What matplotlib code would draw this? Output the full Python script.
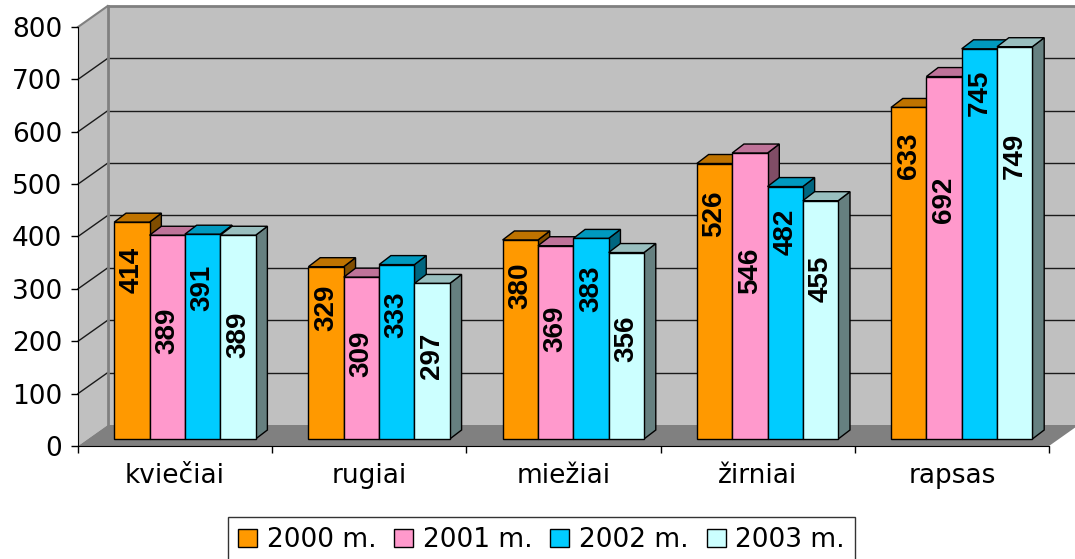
import matplotlib
matplotlib.use('Agg')
import matplotlib.pyplot as plt
from matplotlib.patches import Polygon, Patch
from matplotlib.colors import to_rgb

# ---------------- data ----------------
categories = ['kviečiai', 'rugiai', 'miežiai', 'žirniai', 'rapsas']
series_names = ['2000 m.', '2001 m.', '2002 m.', '2003 m.']
v2000 = [414, 329, 380, 526, 633]
v2001 = [389, 309, 369, 546, 692]
v2002 = [391, 333, 383, 482, 745]
v2003 = [389, 297, 356, 455, 749]
y_ticks = [0, 100, 200, 300, 400, 500, 600, 700, 800]

# ---------------- layout / style ----------------
series_values = [v2000, v2001, v2002, v2003]
colors = ['#FF9900', '#FF99CC', '#00CCFF', '#CCFFFF']
# vertical position (value units, in the bar plane) of each rotated value label
label_centres = [
    [323.6, 251.0, 292.5, 430.9, 540.7],
    [206.0, 163.0, 209.6, 321.0, 456.3],
    [289.0, 237.7, 286.0, 395.8, 661.6],
    [199.5, 159.4, 192.3, 306.8, 540.7],
]

W, H = 1075, 559
fig = plt.figure(figsize=(W / 100, H / 100), dpi=100)
fig.patch.set_facecolor('white')

ax_left, ax_bottom_px, ax_right, ax_top_px = 78, 446, 1049, 27
ax = fig.add_axes([ax_left / W, (H - ax_bottom_px) / H,
                   (ax_right - ax_left) / W, (ax_bottom_px - ax_top_px) / H])
ax.set_xlim(0, 5)
ax.set_ylim(0, 800)
ax.patch.set_visible(False)

px_x = (ax_right - ax_left) / 5.0      # px per category
px_y = (ax_bottom_px - ax_top_px) / 800.0  # px per value unit

# depth vector of the whole chart (floor depth)
Dx, Dy = 29.7 / px_x, 21.0 / px_y
# bar front-plane offset and bar depth
bdx, bdy = 9.8 / px_x, 7.0 / px_y
ddx, ddy = 11.8 / px_x, 9.0 / px_y

ymax = 800
ncat = len(categories)

def shade(c, f):
    r, g, b = to_rgb(c)
    return (r * f, g * f, b * f)

# back wall
ax.add_patch(Polygon([(Dx, Dy), (ncat + Dx, Dy), (ncat + Dx, ymax + Dy), (Dx, ymax + Dy)],
                     closed=True, facecolor='#C0C0C0', edgecolor='none', clip_on=False, zorder=0))
# left wall
ax.add_patch(Polygon([(0, 0), (Dx, Dy), (Dx, ymax + Dy), (0, ymax)],
                     closed=True, facecolor='#C0C0C0', edgecolor='none', clip_on=False, zorder=0))
# floor
ax.add_patch(Polygon([(0, 0), (ncat, 0), (ncat + Dx, Dy), (Dx, Dy)],
                     closed=True, facecolor='#808080', edgecolor='none', clip_on=False, zorder=0.5))

# gridlines
for t in y_ticks[1:-1]:
    ax.plot([Dx, ncat + Dx], [t + Dy, t + Dy], color='#1a1a1a', lw=1.0, clip_on=False, zorder=0.6)
    ax.plot([0, Dx], [t, t + Dy], color='#1a1a1a', lw=1.0, clip_on=False, zorder=0.6)
# wall borders
ax.plot([Dx, ncat + Dx], [ymax + Dy, ymax + Dy], color='#808080', lw=2.0, clip_on=False, zorder=0.7)
ax.plot([0, Dx], [ymax, ymax + Dy], color='#808080', lw=1.5, clip_on=False, zorder=0.7)
ax.plot([Dx, Dx], [Dy, ymax + Dy], color='#808080', lw=2.0, clip_on=False, zorder=0.7)

# bars
bar_w = 0.182
group_w = bar_w * len(series_values)
for j, (vals, col) in enumerate(zip(series_values, colors)):
    base_z = 2 + j * 3
    xs = [i + 0.5 - group_w / 2 + j * bar_w + bdx for i in range(ncat)]
    for x, v in zip(xs, vals):
        top = bdy + v
        ax.add_patch(Polygon([(x + bar_w, bdy), (x + bar_w + ddx, bdy + ddy),
                              (x + bar_w + ddx, top + ddy), (x + bar_w, top)],
                             closed=True, facecolor=shade(col, 0.5), edgecolor='black',
                             lw=1.0, clip_on=False, zorder=base_z))
        ax.add_patch(Polygon([(x, top), (x + bar_w, top), (x + bar_w + ddx, top + ddy), (x + ddx, top + ddy)],
                             closed=True, facecolor=shade(col, 0.75), edgecolor='black',
                             lw=1.0, clip_on=False, zorder=base_z + 1))
    ax.bar(xs, vals, width=bar_w, bottom=bdy, align='edge', color=col,
           edgecolor='black', linewidth=1.0, zorder=base_z + 2, clip_on=False)
    for x, lc, v in zip(xs, label_centres[j], vals):
        ax.text(x + bar_w / 2, bdy + lc, str(v), rotation=90, ha='center', va='center',
                fontsize=20, fontweight='bold', family='Liberation Sans',
                zorder=20)

# axes / ticks
for s in ['top', 'right']:
    ax.spines[s].set_visible(False)
ax.spines['left'].set_color('black')
ax.spines['bottom'].set_color('black')
ax.spines['left'].set_zorder(1)
ax.spines['bottom'].set_zorder(1)
ax.set_yticks(y_ticks)
ax.set_yticklabels([str(t) for t in y_ticks], fontsize=19, family='DejaVu Sans')
ax.tick_params(axis='y', direction='out', length=5, width=1, pad=6.5, color='black')
ax.set_xticks(range(ncat + 1))
ax.set_xticklabels([])
ax.tick_params(axis='x', which='major', direction='out', length=5, width=1, color='black')
ax.set_xticks([i + 0.5 for i in range(ncat)], minor=True)
ax.set_xticklabels(categories, minor=True, fontsize=19, family='DejaVu Sans')
ax.tick_params(axis='x', which='minor', length=0, pad=12)

# legend
handles = [Patch(facecolor=c, edgecolor='black', linewidth=1.0) for c in colors]
leg = fig.legend(handles, series_names, loc='upper center', ncol=4,
                 bbox_to_anchor=(541.5 / W, 1 - 516.7 / H), bbox_transform=fig.transFigure,
                 prop={'family': 'DejaVu Sans', 'size': 19}, frameon=True, fancybox=False,
                 borderpad=0.4, handlelength=0.72, handleheight=0.62, handletextpad=0.36,
                 columnspacing=0.68, borderaxespad=0)
leg.get_frame().set_edgecolor('black')
leg.get_frame().set_linewidth(1.0)

fig.savefig('out.png', dpi=100)
